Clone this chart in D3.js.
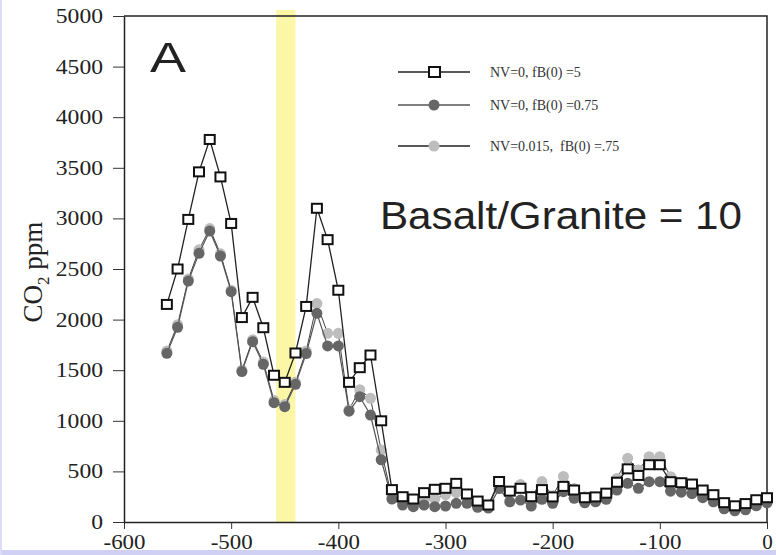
<!DOCTYPE html>
<html>
<head>
<meta charset="utf-8">
<script src="https://cdn.jsdelivr.net/npm/d3@7"></script>
<style>
  body { margin: 0; background: #fff; }
  svg { display: block; }
  .tick text { font-family: "Liberation Serif", "DejaVu Serif", serif; font-size: 20px; fill: #222; }
  .legend-text { white-space: pre; }
</style>
</head>
<body>
<div id="chart"></div>
<script>
//SVG area dimensions
var svgWidth = 776;
var svgHeight = 555;

var margin = { top: 16, right: 9, bottom: 33, left: 124 };
var width = svgWidth - margin.left - margin.right;
var height = svgHeight - margin.top - margin.bottom;

// Time (Myr), 10 Myr steps from -560 to 0
var ages = d3.range(-560, 1, 10);

// NV=0, fB(0)=5 (open squares)
var seriesSquares = [2150, 2500, 2990, 3460, 3780, 3410, 2950, 2020, 2220, 1920,
  1450, 1380, 1670, 2130, 3100, 2790, 2290, 1380, 1525, 1650,
  1000, 320, 250, 227, 290, 323, 333, 382, 277, 207,
  168, 400, 305, 333, 250, 320, 248, 352, 316, 240,
  248, 285, 393, 525, 460, 566, 566, 398, 388, 375,
  316, 270, 191, 160, 182, 220, 240];

// NV=0, fB(0)=0.75 (dark circles)
var seriesDark = [1667, 1924, 2381, 2655, 2875, 2628, 2276, 1486, 1782, 1558,
  1179, 1140, 1360, 1665, 2062, 1740, 1740, 1095, 1238, 1057,
  615, 227, 168, 151, 168, 151, 158, 185, 185, 145,
  138, 330, 200, 217, 158, 224, 185, 300, 234, 190,
  200, 224, 316, 382, 333, 398, 398, 305, 295, 280,
  240, 200, 130, 110, 120, 160, 190];

// NV=0.015, fB(0)=.75 (light circles)
var seriesLight = [1690, 1950, 2400, 2690, 2900, 2650, 2290, 1500, 1800, 1580,
  1200, 1160, 1380, 1690, 2158, 1864, 1864, 1110, 1308, 1222,
  711, 240, 200, 190, 210, 230, 270, 290, 230, 180,
  150, 390, 300, 370, 250, 400, 260, 450, 330, 250,
  230, 250, 430, 629, 514, 645, 645, 448, 380, 340,
  280, 220, 160, 130, 140, 180, 210];

var legendLabels = ["NV=0, fB(0) =5", "NV=0, fB(0) =0.75", "NV=0.015,  fB(0) =.75"];
var xTicks = [-600, -500, -400, -300, -200, -100, 0];
var yTicks = [0, 500, 1000, 1500, 2000, 2500, 3000, 3500, 4000, 4500, 5000];
var highlight = [-458, -440];

var svg = d3.select("#chart")
  .append("svg")
  .attr("width", svgWidth)
  .attr("height", svgHeight);

// lavender frame edge of the original slide
svg.append("rect").attr("x", 0).attr("y", 550).attr("width", svgWidth).attr("height", 5).attr("fill", "#cfd0f4");
svg.append("rect").attr("x", 0).attr("y", 0).attr("width", 2).attr("height", svgHeight).attr("fill", "#dcdcf6");

var chartGroup = svg.append("g")
  .attr("transform", `translate(${margin.left}, ${margin.top})`);

var x = d3.scaleLinear().domain([-600, 0]).range([0, width]);
var y = d3.scaleLinear().domain([0, 5000]).range([height, 0]);

// yellow band
chartGroup.append("rect")
  .attr("x", x(highlight[0]))
  .attr("y", -6)
  .attr("width", x(highlight[1]) - x(highlight[0]))
  .attr("height", height + 6)
  .attr("fill", "#fbf7a6");

// frame top / right
chartGroup.append("path")
  .attr("d", `M0,0H${width}V${height}`)
  .attr("fill", "none")
  .attr("stroke", "#222")
  .attr("stroke-width", 1.5);

var bottomAxis = d3.axisBottom(x).tickValues(xTicks).tickSize(7).tickSizeOuter(0).tickFormat(d3.format("d"));
var leftAxis = d3.axisLeft(y).tickValues(yTicks).tickSize(11).tickSizeOuter(0).tickFormat(d3.format("d"));

// the scanned figure is stretched sideways, so labels get a fixed width per character
function stretch(sel, perChar) {
  sel.each(function() {
    var t = d3.select(this);
    t.attr("textLength", t.text().length * perChar).attr("lengthAdjust", "spacingAndGlyphs");
  });
}

var gx = chartGroup.append("g")
  .attr("transform", `translate(0, ${height})`)
  .call(bottomAxis);
gx.selectAll("text").attr("dy", "0.85em").text(d => d < 0 ? "-" + Math.abs(d) : d);
stretch(gx.selectAll("text"), 10.5);

var gy = chartGroup.append("g").call(leftAxis);
gy.selectAll("text").attr("x", -21);
stretch(gy.selectAll("text"), 11.8);

chartGroup.selectAll(".domain").attr("stroke", "#222").attr("stroke-width", 1.5);
chartGroup.selectAll(".tick line").attr("stroke", "#333");

var line = d3.line().x((d, i) => x(ages[i])).y(d => y(d));

// light circles series
chartGroup.append("path").datum(seriesLight)
  .attr("d", line).attr("fill", "none").attr("stroke", "#444").attr("stroke-width", 1);
chartGroup.append("g").selectAll("circle")
  .data(seriesLight).enter().append("circle")
  .attr("cx", (d, i) => x(ages[i]))
  .attr("cy", d => y(d))
  .attr("r", 5.5)
  .attr("fill", "#bdbdbd");

// dark circles series
chartGroup.append("path").datum(seriesDark)
  .attr("d", line).attr("fill", "none").attr("stroke", "#555").attr("stroke-width", 1.2);
chartGroup.append("g").selectAll("circle")
  .data(seriesDark).enter().append("circle")
  .attr("cx", (d, i) => x(ages[i]))
  .attr("cy", d => y(d))
  .attr("r", 5.5)
  .attr("fill", "#666");

// open squares series
chartGroup.append("path").datum(seriesSquares)
  .attr("d", line).attr("fill", "none").attr("stroke", "#222").attr("stroke-width", 1.3);
chartGroup.append("g").selectAll("rect")
  .data(seriesSquares).enter().append("rect")
  .attr("x", (d, i) => x(ages[i]) - 5)
  .attr("y", d => y(d) - 4.5)
  .attr("width", 10)
  .attr("height", 9)
  .attr("fill", "#fff")
  .attr("stroke", "#111")
  .attr("stroke-width", 2);

// legend
var legendY = [56, 89, 130];
var legend = chartGroup.append("g");
legendLabels.forEach(function(lbl, i) {
  var g = legend.append("g").attr("transform", `translate(0, ${legendY[i]})`);
  g.append("line").attr("x1", 274).attr("x2", 346).attr("y1", 0).attr("y2", 0)
    .attr("stroke", i === 1 ? "#555" : "#222").attr("stroke-width", 1.3);
  if (i === 0) {
    g.append("rect").attr("x", 305).attr("y", -5).attr("width", 11).attr("height", 10)
      .attr("fill", "#fff").attr("stroke", "#111").attr("stroke-width", 2);
  } else {
    g.append("circle").attr("cx", 310).attr("cy", 0).attr("r", 5.5)
      .attr("fill", i === 1 ? "#666" : "#bdbdbd");
  }
  g.append("text").attr("class", "legend-text").attr("x", 366).attr("y", 5)
    .attr("font-family", "Liberation Serif, serif").attr("font-size", 14).attr("fill", "#333")
    .text(lbl);
});

// panel letter and annotation
chartGroup.append("text")
  .attr("x", 26).attr("y", 56)
  .attr("font-family", "Liberation Sans, Arial, sans-serif").attr("font-size", 43).attr("fill", "#222")
  .attr("textLength", 36).attr("lengthAdjust", "spacingAndGlyphs")
  .text("A");

chartGroup.append("text")
  .attr("x", 256).attr("y", 213)
  .attr("font-family", "Liberation Sans, Arial, sans-serif").attr("font-size", 38).attr("fill", "#222")
  .attr("textLength", 362).attr("lengthAdjust", "spacingAndGlyphs")
  .text("Basalt/Granite = 10");

// y axis label
var ylab = svg.append("text")
  .attr("transform", `translate(42, 272) rotate(-90)`)
  .attr("text-anchor", "middle")
  .attr("font-family", "Liberation Serif, serif").attr("font-size", 27).attr("fill", "#222");
ylab.append("tspan").text("CO");
ylab.append("tspan").attr("font-size", 17).attr("dy", 7).text("2");
ylab.append("tspan").attr("dy", -7).text(" ppm");
</script>
</body>
</html>
